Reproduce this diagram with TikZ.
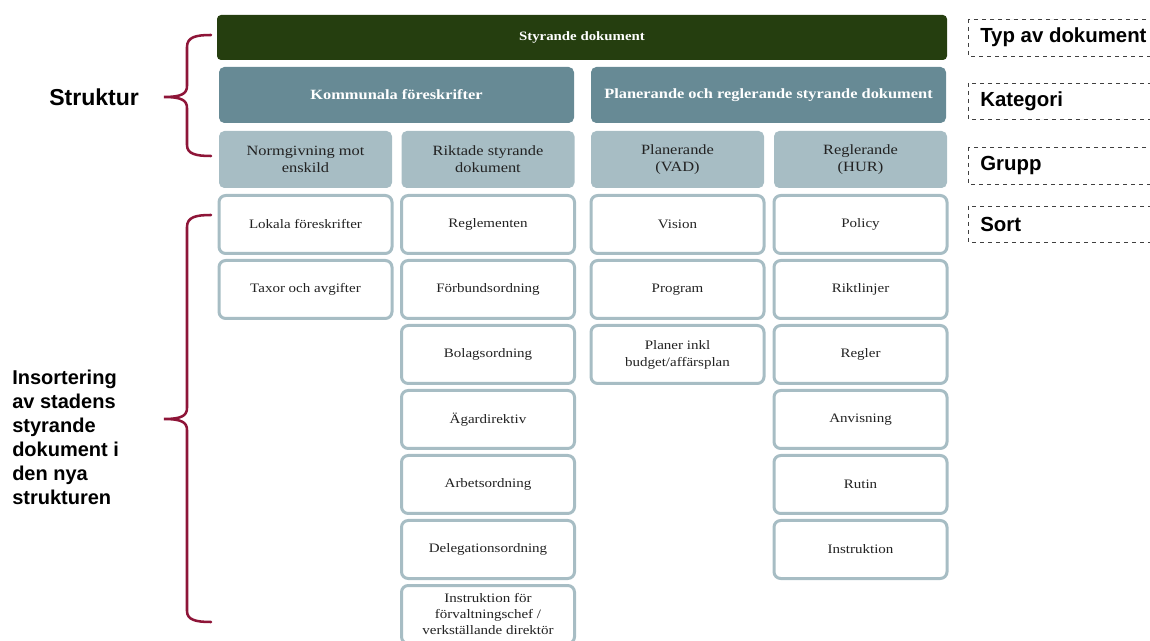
\documentclass[tikz,border=0pt]{standalone}
\usepackage{fontspec}
\setmainfont{Liberation Serif}[FakeStretch=1.16]
\newfontfamily\labelfont{Liberation Sans}
\definecolor{topgreen}{HTML}{253E0F}
\definecolor{katcol}{HTML}{678A95}
\definecolor{grpcol}{HTML}{A7BDC4}
\definecolor{bracecol}{HTML}{8E1538}
\definecolor{txtcol}{HTML}{222222}
\begin{document}
\begin{tikzpicture}[x=0.75pt,y=-0.75pt,
  typbox/.style={fill=topgreen, rounded corners=3pt, minimum width=547.5pt, minimum height=33.75pt, inner sep=0pt, text=white, font=\bfseries\fontsize{9.6}{11}\selectfont},
  katbox/.style={fill=katcol, rounded corners=4pt, minimum width=266.25pt, minimum height=42pt, inner sep=0pt, text=white, font=\bfseries\fontsize{10.6}{12}\selectfont},
  grpbox/.style={fill=grpcol, rounded corners=4pt, minimum width=129.75pt, minimum height=42.75pt, inner sep=0pt, align=center, text=txtcol, font=\fontsize{10.6}{12.9}\selectfont},
  sortbox/.style={draw=grpcol, line width=2.25pt, fill=white, rounded corners=5pt, minimum width=129.75pt, minimum height=43.5pt, inner sep=0pt, align=center, text=txtcol, font=\fontsize{9.7}{12.7}\selectfont},
  dashbox/.style={draw=black!75, dashed, line width=0.6pt},
  sidelabel/.style={font=\labelfont\bfseries\fontsize{15.3}{18}\selectfont, anchor=west, inner sep=0pt},
  leftlabel/.style={font=\labelfont\bfseries\fontsize{15}{18}\selectfont, anchor=west, inner sep=0pt, align=left},
  brace/.style={draw=bracecol, line width=1.9pt, line cap=round}
]
\useasboundingbox (0,0) rectangle (1150,641);

% top
\node[typbox] (top) at (582,37.5) {Styrande dokument};
% categories
\node[katbox] (kom) at (396.5,95) {Kommunala föreskrifter};
\node[katbox] (plr) at (768.5,95) {Planerande och reglerande styrande dokument};
% groups
\node[grpbox] (g1) at (305.5,159.5) {Normgivning mot\\enskild};
\node[grpbox] (g2) at (488,159.5) {Riktade styrande\\dokument};
\node[grpbox] (g3) at (677.5,159.5) {Planerande\\(VAD)};
\node[grpbox] (g4) at (860.5,159.5) {Reglerande\\(HUR)};

% column 1
\node[sortbox] (a1) at (305.5,224.5) {Lokala föreskrifter};
\node[sortbox] (a2) at (305.5,289.5) {Taxor och avgifter};
% column 2
\node[sortbox] (b1) at (488,224.5) {Reglementen};
\node[sortbox] (b2) at (488,289.5) {Förbundsordning};
\node[sortbox] (b3) at (488,354.5) {Bolagsordning};
\node[sortbox] (b4) at (488,419.5) {Ägardirektiv};
\node[sortbox] (b5) at (488,484.5) {Arbetsordning};
\node[sortbox] (b6) at (488,549.5) {Delegationsordning};
\node[sortbox, font=\fontsize{9.7}{12}\selectfont] (b7) at (488,614.5) {Instruktion för\\förvaltningschef /\\verkställande direktör};
% column 3
\node[sortbox] (c1) at (677.5,224.5) {Vision};
\node[sortbox] (c2) at (677.5,289.5) {Program};
\node[sortbox] (c3) at (677.5,354.5) {Planer inkl\\budget/affärsplan};
% column 4
\node[sortbox] (d1) at (860.5,224.5) {Policy};
\node[sortbox] (d2) at (860.5,289.5) {Riktlinjer};
\node[sortbox] (d3) at (860.5,354.5) {Regler};
\node[sortbox] (d4) at (860.5,419.5) {Anvisning};
\node[sortbox] (d5) at (860.5,484.5) {Rutin};
\node[sortbox] (d6) at (860.5,549.5) {Instruktion};

% right dashed labels
\draw[dashbox] (968,19) rectangle (1160,56);
\node[sidelabel] (ltyp) at (980,37.5) {Typ av dokument};
\draw[dashbox] (968,83) rectangle (1160,119);
\node[sidelabel] (lkat) at (980,101) {Kategori};
\draw[dashbox] (968,147) rectangle (1160,184);
\node[sidelabel] (lgrp) at (980,165.5) {Grupp};
\draw[dashbox] (968,206) rectangle (1160,242);
\node[sidelabel] (lsort) at (980,224) {Sort};

% left labels
\node[leftlabel, font=\labelfont\bfseries\fontsize{17.3}{20}\selectfont] (struktur) at (49,97) {Struktur};
\node[leftlabel] (insort) at (12,437) {Insortering\\av stadens\\styrande\\dokument i\\den nya\\strukturen};

% braces
\draw[brace] (211,35) .. controls (196,35) and (187,37) .. (187,47) -- (187,86)
  .. controls (187,94) and (181,97) .. (164,97)
  .. controls (181,97) and (187,100) .. (187,108) -- (187,145)
  .. controls (187,154) and (196,156) .. (211,156);
\draw[brace] (211,215) .. controls (196,215) and (187,217) .. (187,227) -- (187,408)
  .. controls (187,416) and (181,419) .. (164,419)
  .. controls (181,419) and (187,422) .. (187,430) -- (187,611)
  .. controls (187,620) and (196,622) .. (211,622);
\end{tikzpicture}
\end{document}
